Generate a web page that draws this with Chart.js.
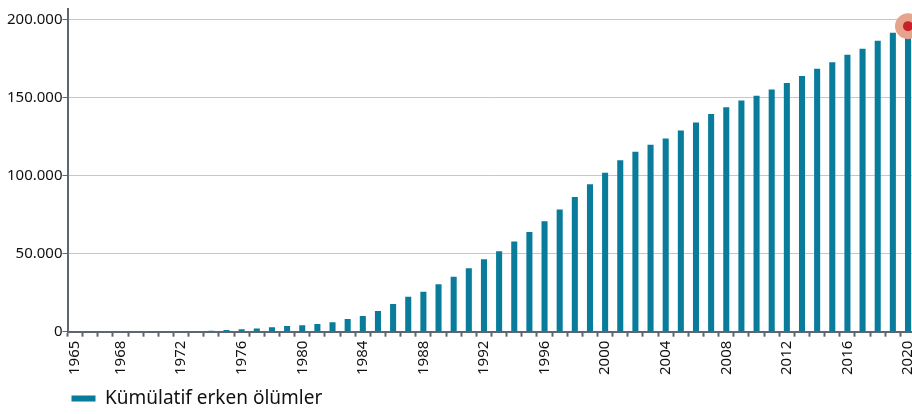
<!DOCTYPE html>
<html>
<head>
<meta charset="utf-8">
<script src="https://cdn.jsdelivr.net/npm/chart.js@4.4.0/dist/chart.umd.min.js"></script>
<style>
  html, body { margin: 0; padding: 0; background: #fff; overflow: hidden; }
  #wrap { width: 930px; height: 414px; position: relative; }
</style>
</head>
<body>
<div id="wrap"><canvas id="chart"></canvas></div>
<script>
// yıllar (kategoriler)
const years = ['1965','1966','1967','1968','1969','1970','1971','1972','1973','1974',
  '1975','1976','1977','1978','1979','1980','1981','1982','1983','1984',
  '1985','1986','1987','1988','1989','1990','1991','1992','1993','1994',
  '1995','1996','1997','1998','1999','2000','2001','2002','2003','2004',
  '2005','2006','2007','2008','2009','2010','2011','2012','2013','2014',
  '2015','2016','2017','2018','2019','2020'];

// kümülatif erken ölümler
const deaths = [250, 280, 300, 330, 360, 390, 420, 460, 500, 560,
  1000, 1500, 2100, 2800, 3600, 4200, 4900, 6000, 8100, 10000,
  13200, 17700, 22400, 25600, 30500, 35200, 40700, 46500, 51600, 57800,
  64000, 70800, 78300, 86400, 94500, 102000, 109900, 115400, 119900, 124000,
  129100, 134200, 139700, 144000, 148300, 151300, 155300, 159600, 164000, 168700,
  172800, 177700, 181500, 186700, 191800, 196000];

// işaretli son yıl
const markYear = '2020';
const markValue = 196000;

const yTicks = [0, 50000, 100000, 150000, 200000];
const xLabelYears = ['1965', '1968'];

const markData = years.map(y => y === markYear ? markValue : null);

function fmt(v) {
  return String(v).replace(/\B(?=(\d{3})+(?!\d))/g, '.');
}

const axisColor = '#5e6771';

// lejantı biraz sola kaydır
const shiftLegend = {
  id: 'shiftLegend',
  afterLayout(chart) {
    chart.legend.left -= 6;
    chart.legend.right -= 6;
  }
};

new Chart(document.getElementById('chart'), {
  type: 'bar',
  data: {
    labels: years,
    datasets: [
      {
        type: 'line',
        label: 'nokta',
        data: markData,
        showLine: false,
        pointRadius: 5,
        pointBackgroundColor: '#c8212b',
        pointBorderWidth: 0,
        clip: false,
        order: 0
      },
      {
        type: 'line',
        label: 'hale',
        data: markData,
        showLine: false,
        pointRadius: 13,
        pointBackgroundColor: '#e6a48c',
        pointBorderWidth: 0,
        clip: false,
        order: 1
      },
      {
        label: 'Kümülatif erken ölümler',
        data: deaths,
        backgroundColor: '#087c9a',
        categoryPercentage: 1,
        barPercentage: 0.4,
        order: 2
      }
    ]
  },
  options: {
    responsive: true,
    maintainAspectRatio: false,
    animation: false,
    layout: { autoPadding: false, padding: { top: 7, left: 7, right: 0, bottom: -4 } },
    plugins: {
      tooltip: { enabled: false },
      legend: {
        position: 'bottom',
        align: 'start',
        fullSize: false,
        labels: {
          filter: item => item.text === 'Kümülatif erken ölümler',
          boxWidth: 24,
          boxHeight: 6,
          padding: 10,
          color: '#111',
          font: { family: 'Noto Sans', size: 19 }
        }
      }
    },
    scales: {
      x: {
        grid: {
          drawOnChartArea: false,
          drawTicks: true,
          tickLength: 5,
          tickWidth: 2,
          tickColor: axisColor
        },
        border: { color: axisColor, width: 2 },
        ticks: {
          autoSkip: false,
          minRotation: 90,
          maxRotation: 90,
          padding: 4,
          color: '#111',
          font: { family: 'Noto Sans', size: 15 },
          callback: function (val, i) {
            const y = years[i];
            return (xLabelYears.includes(y) || Number(y) % 4 === 0) ? y : '';
          }
        }
      },
      y: {
        min: 0,
        max: 207000,
        grid: {
          color: '#c6c6c6',
          lineWidth: 1,
          tickLength: 5,
          tickColor: axisColor
        },
        border: { color: axisColor, width: 2 },
        afterBuildTicks: axis => { axis.ticks = yTicks.map(v => ({ value: v })); },
        ticks: {
          padding: 0,
          color: '#111',
          font: { family: 'Noto Sans', size: 15 },
          callback: v => fmt(v)
        }
      }
    }
  },
  plugins: [shiftLegend]
});
</script>
</body>
</html>
